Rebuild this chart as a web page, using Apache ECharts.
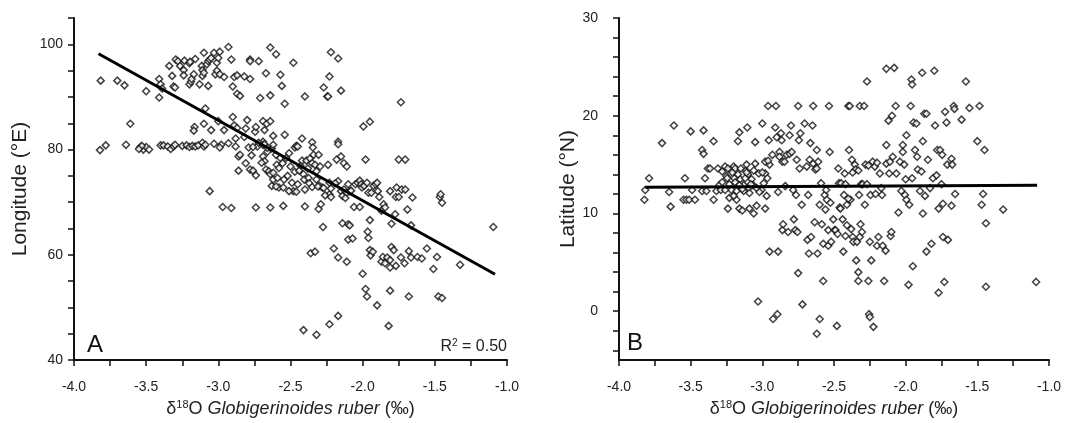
<!DOCTYPE html>
<html>
<head>
<meta charset="utf-8">
<script src="https://cdn.jsdelivr.net/npm/echarts@6/dist/echarts.min.js"></script>
<style>html,body{margin:0;padding:0;background:#fff}#c{width:1082px;height:423px}</style>
</head>
<body>
<div id="c"></div>
<script>
// ---- DATA ----
const xTicks = [-4.0,-3.75,-3.5,-3.25,-3.0,-2.75,-2.5,-2.25,-2.0,-1.75,-1.5,-1.25,-1.0];
const xLabels = [-4.0,-3.5,-3.0,-2.5,-2.0,-1.5,-1.0];
const lonTicks = [40,45,50,55,60,65,70,75,80,85,90,95,100,105];
const lonLabels = [40,60,80,100];
const latTicks = [-4,-2,0,2,4,6,8,10,12,14,16,18,20,22,24,26,28,30];
const latLabels = [0,10,20,30];
const lonFit = [[-3.83,98.2],[-1.083,56.3]];
const latFit = [[-3.817,12.68],[-1.083,12.89]];
const lonPoints = [
[-3.815,93.1],[-3.82,79.9],[-3.78,80.8],[-3.70,93.1],[-3.65,92.2],[-3.61,84.9],[-3.64,80.9],[-3.50,91.1],
[-3.54,80.5],[-3.52,80.0],[-3.50,80.5],[-3.48,80.0],[-3.53,80.7],[-3.55,80.1],
[-3.41,93.4],[-3.41,89.9],[-3.40,92.4],[-3.39,91.6],
[-3.40,80.8],[-3.38,80.8],[-3.35,80.6],[-3.33,80.1],[-3.31,80.6],[-3.30,80.9],
[-3.34,95.9],[-3.32,94.0],[-3.31,92.0],[-3.30,91.8],
[-3.295,97.1],[-3.28,96.8],[-3.265,95.9],[-3.24,95.1],[-3.24,94.1],[-3.235,96.9],
[-3.25,80.7],[-3.22,80.8],[-3.20,80.5],[-3.18,80.7],[-3.16,80.6],[-3.14,80.8],
[-3.20,96.4],[-3.195,96.7],[-3.20,92.4],[-3.19,92.9],[-3.185,93.4],[-3.17,94.3],[-3.16,97.2],
[-3.13,92.4],[-3.115,95.9],[-3.11,95.1],[-3.11,94.0],[-3.10,98.4],[-3.10,94.6],
[-3.10,84.9],[-3.09,87.8],[-3.165,84.3],[-3.17,83.6],
[-3.11,81.3],[-3.10,80.6],[-3.09,80.9],
[-3.08,96.2],[-3.07,96.8],[-3.06,97.1],[-3.05,97.4],[-3.03,98.4],[-3.02,94.3],[-3.01,96.5],[-3.00,97.4],[-2.99,98.6],[-3.01,95.0],[-2.99,94.3],
[-3.07,92.1],
[-3.05,83.7],[-3.03,81.1],[-2.98,80.9],[-2.99,80.4],[-3.00,85.4],
[-3.06,72.1],[-2.97,69.1],[-2.91,68.9],
[-2.96,93.8],[-2.93,99.5],[-2.91,97.1],[-2.89,93.8],[-2.87,94.1],[-2.90,92.0],[-2.87,90.6],[-2.85,90.2],[-2.82,93.9],[-2.78,97.1],[-2.78,96.8],[-2.78,93.4],[-2.72,96.8],[-2.71,89.8],
[-2.96,83.7],[-2.93,81.2],[-2.90,86.2],[-2.89,84.6],[-2.87,84.1],[-2.80,85.6],[-2.81,84.0],[-2.82,82.4],[-2.88,82.1],[-2.88,80.6],[-2.86,78.7],[-2.85,79.0],[-2.86,76.0],[-2.81,77.4],[-2.79,80.4],[-2.78,76.2],[-2.77,78.9],[-2.76,76.0],[-2.74,75.1],[-2.73,80.6],[-2.745,83.4],[-2.74,84.3],
[-2.74,69.0],[-2.64,69.0],
[-2.69,81.5],[-2.69,80.9],[-2.69,85.4],[-2.665,84.9],[-2.68,83.7],[-2.64,85.4],[-2.69,78.7],[-2.68,77.8],[-2.67,76.2],[-2.66,79.6],[-2.65,75.9],[-2.64,75.3],[-2.63,73.1],[-2.62,74.3],[-2.63,80.2],[-2.62,82.6],[-2.62,80.9],[-2.60,79.0],[-2.595,77.1],[-2.59,74.6],[-2.58,72.8],
[-2.67,94.5],[-2.64,90.3],[-2.64,99.4],[-2.60,98.1],[-2.57,94.2],[-2.56,92.1],[-2.54,88.7],[-2.54,82.8],[-2.55,69.3],
[-2.57,78.4],[-2.555,77.4],[-2.545,74.3],[-2.53,78.4],[-2.51,79.3],[-2.50,76.8],[-2.49,73.7],[-2.48,72.1],[-2.47,80.4],[-2.46,80.7],[-2.45,80.6],[-2.48,96.5],
[-2.43,76.9],[-2.42,77.9],[-2.42,82.1],[-2.41,75.3],[-2.405,74.3],[-2.40,72.4],[-2.40,69.2],[-2.40,90.1],[-2.39,77.9],[-2.38,76.4],[-2.375,74.6],[-2.365,78.3],[-2.35,77.4],[-2.35,81.4],[-2.345,80.4],[-2.34,79.0],[-2.33,77.1],[-2.32,74.3],[-2.32,75.9],[-2.305,68.7],[-2.305,79.0],[-2.30,73.1],[-2.295,76.8],[-2.29,69.6],[-2.28,72.8],[-2.275,65.3],[-2.36,60.3],[-2.33,60.6],[-2.41,45.7],[-2.32,44.8],
[-2.27,91.8],[-2.245,90.1],[-2.24,90.1],[-2.23,93.9],[-2.22,98.5],[-2.24,77.1],[-2.23,73.7],[-2.23,71.5],[-2.22,72.6],[-2.20,61.2],[-2.23,46.8],[-2.17,48.4],
[-2.17,97.3],[-2.15,91.2],[-2.17,81.5],[-2.17,81.0],[-2.18,78.1],[-2.15,78.7],[-2.13,77.4],[-2.11,76.8],[-2.17,74.0],[-2.15,72.1],[-2.14,71.2],[-2.13,72.4],[-2.11,71.8],[-2.10,73.4],[-2.09,72.1],[-2.14,66.0],[-2.10,65.8],[-2.09,65.6],[-2.17,59.5],[-2.11,58.7],[-2.10,62.9],[-2.07,63.1],[-2.06,69.1],
[-2.05,73.4],[-2.035,73.7],[-2.02,74.1],[-2.01,73.4],[-2.005,72.8],[-1.99,73.1],[-2.02,69.1],[-2.00,56.4],[-1.995,84.4],[-1.98,78.1],[-1.98,53.5],[-1.97,52.1],[-1.97,73.7],[-1.96,71.8],[-1.95,85.3],[-1.965,64.4],[-1.96,63.2],[-1.95,66.6],[-1.95,60.9],[-1.945,59.9],[-1.94,71.8],[-1.93,60.6],[-1.925,73.1],[-1.91,73.4],[-1.90,73.7],[-1.895,72.1],[-1.885,71.0],[-1.90,50.4],
[-1.87,68.4],[-1.855,69.6],[-1.845,69.0],[-1.87,58.7],[-1.86,59.6],[-1.845,58.4],[-1.83,59.5],[-1.81,72.1],[-1.81,59.0],[-1.81,57.6],[-1.81,53.2],[-1.82,46.5],[-1.80,65.9],[-1.80,61.5],[-1.785,60.9],[-1.775,67.7],[-1.77,57.9],[-1.77,71.0],[-1.765,72.8],[-1.75,78.1],[-1.75,71.0],[-1.73,72.4],[-1.735,89.0],[-1.735,59.5],[-1.71,58.4],[-1.705,78.1],[-1.705,72.4],[-1.69,68.6],[-1.68,52.1],[-1.68,60.7],[-1.665,65.6],[-1.655,70.9],[-1.665,59.5],[-1.62,59.6],[-1.59,59.3],[-1.555,61.2],[-1.51,57.3],[-1.485,59.6],[-1.475,52.1],[-1.465,71.0],[-1.46,71.5],[-1.45,69.9],[-1.45,51.8],[-1.325,58.1],[-1.095,65.3],
[-2.68,81.0],[-2.66,80.3],[-2.58,76.5],[-2.52,75.0],[-2.47,75.8],[-2.45,73.4],[-2.44,76.0],[-2.37,73.6],[-2.35,72.9],[-2.31,73.0],[-2.27,72.7],[-2.26,71.3],[-2.22,71.0],[-2.19,73.6],[-2.12,70.8],[-2.08,72.2],[-2.46,72.0],[-2.51,72.1],[-2.55,72.8],[-2.60,73.0],[-2.62,75.6],[-2.70,77.5],[-2.72,81.3],[-2.76,80.5]
];
const latPoints = [
[-3.823,11.4],[-3.817,12.4],[-3.79,13.6],[-3.70,17.2],[-3.65,12.2],[-3.64,10.7],[-3.617,19.0],
[-3.55,11.4],[-3.53,11.4],[-3.51,11.4],[-3.47,11.4],[-3.54,13.6],[-3.50,18.4],[-3.49,12.4],
[-3.42,16.5],[-3.41,18.5],[-3.41,16.1],[-3.42,12.3],[-3.40,13.6],[-3.39,12.3],[-3.38,14.6],[-3.365,14.6],[-3.34,17.4],[-3.34,11.4],[-3.32,12.3],[-3.31,14.6],[-3.30,12.9],[-3.29,12.4],[-3.28,14.3],
[-3.26,14.8],[-3.25,13.8],[-3.245,13.6],[-3.24,10.5],[-3.23,11.6],[-3.22,14.5],[-3.215,12.4],[-3.20,14.8],[-3.195,13.6],[-3.19,14.6],[-3.18,11.4],[-3.18,12.3],[-3.17,17.4],[-3.16,18.3],[-3.16,10.5],[-3.155,13.5],[-3.15,14.6],[-3.14,10.3],[-3.13,12.9],[-3.13,12.3],[-3.115,14.4],[-3.11,15.0],[-3.105,18.8],[-3.10,14.0],[-3.095,12.6],[-3.09,10.5],[-3.09,12.1],[-3.075,13.5],[-3.065,12.9],[-3.06,10.0],[-3.05,15.1],[-3.05,17.3],[-3.04,10.8],[-3.03,1.0],[-3.025,14.1],
[-3.005,12.4],[-3.00,19.2],[-2.99,13.1],[-2.98,14.1],[-2.98,10.5],[-2.97,11.8],[-2.965,13.6],[-2.96,21.0],[-2.955,17.5],[-2.95,6.1],[-2.95,15.0],[-2.93,16.0],[-2.925,-0.8],[-2.91,18.8],[-2.905,21.0],[-2.90,17.8],[-2.895,-0.3],[-2.89,12.2],[-2.89,6.1],[-2.88,16.3],[-2.88,15.8],[-2.87,18.2],[-2.865,17.5],[-2.86,15.3],[-2.86,8.3],[-2.855,8.9],[-2.845,15.3],[-2.84,12.8],[-2.83,16.0],[-2.82,8.1],[-2.81,18.0],[-2.81,16.1],[-2.80,19.0],[-2.795,16.3],[-2.785,12.4],[-2.78,9.4],[-2.77,8.3],[-2.765,11.9],[-2.76,15.5],[-2.755,8.1],[-2.75,3.9],[-2.75,21.0],[-2.745,17.5],[-2.74,14.6],[-2.735,18.2],[-2.725,10.9],[-2.72,0.7],[-2.705,19.2],[-2.69,14.8],[-2.685,7.3],[-2.68,11.9],[-2.675,5.9],[-2.67,15.5],[-2.665,17.2],[-2.66,7.6],[-2.65,19.0],[-2.645,21.0],[-2.645,15.1],[-2.635,9.1],[-2.63,14.5],[-2.62,14.6],[-2.62,-2.3],[-2.62,16.5],[-2.615,5.9],[-2.61,15.3],[-2.60,10.9],[-2.60,-0.8],[-2.59,13.1],[-2.585,8.9],[-2.575,6.9],[-2.575,3.1],[-2.565,11.9],[-2.56,10.4],[-2.555,12.4],[-2.55,11.4],[-2.54,6.7],[-2.54,8.3],[-2.535,21.0],[-2.53,16.3],[-2.525,11.1],[-2.52,7.1],[-2.505,9.4],[-2.495,8.3],[-2.49,8.3],[-2.48,-1.5],[-2.475,7.9],[-2.47,14.6],[-2.465,13.1],[-2.46,10.6],[-2.455,10.5],[-2.45,13.1],[-2.44,9.4],[-2.435,6.1],[-2.43,11.9],[-2.425,14.1],[-2.42,7.7],[-2.41,8.8],[-2.41,10.9],[-2.40,21.0],[-2.395,16.5],[-2.39,21.0],[-2.385,11.4],[-2.38,8.4],[-2.375,15.5],[-2.37,7.6],[-2.365,7.1],[-2.355,15.0],[-2.35,14.5],[-2.345,5.2],[-2.34,7.1],[-2.33,4.0],[-2.33,3.1],[-2.325,11.9],[-2.32,7.6],[-2.32,21.0],[-2.315,8.9],[-2.31,13.0],[-2.305,8.1],[-2.30,13.0],[-2.29,21.0],[-2.285,10.9],[-2.28,15.0],[-2.27,23.5],[-2.26,3.1],[-2.25,7.1],[-2.255,-0.3],[-2.25,-0.6],[-2.245,11.9],[-2.24,5.2],[-2.23,15.3],[-2.225,-1.6],[-2.215,14.8],[-2.20,6.7],[-2.19,7.6],[-2.18,14.1],[-2.17,12.6],[-2.165,11.9],[-2.16,6.7],[-2.15,3.1],[-2.14,6.2],[-2.135,15.1],[-2.135,17.0],[-2.135,24.8],[-2.12,19.5],[-2.115,14.1],[-2.11,15.3],[-2.105,7.7],[-2.10,8.1],[-2.095,20.0],[-2.09,15.8],[-2.08,24.9],[-2.07,21.0],[-2.065,14.1],[-2.05,10.1],[-2.04,15.3],[-2.03,12.3],[-2.02,17.0],[-2.02,16.3],[-2.01,15.0],[-2.005,11.9],[-2.00,13.5],[-1.995,18.0],[-1.995,11.4],[-1.98,2.7],[-1.975,10.9],[-1.965,21.0],[-1.96,23.7],[-1.955,23.2],[-1.955,13.6],[-1.95,4.6],[-1.945,19.3],[-1.935,16.5],[-1.925,19.2],[-1.92,15.8],[-1.915,14.5],[-1.90,12.3],[-1.89,14.3],[-1.885,24.4],[-1.88,17.4],[-1.88,10.0],[-1.87,20.2],[-1.865,11.8],[-1.855,20.2],[-1.855,6.1],[-1.845,15.5],[-1.83,12.6],[-1.82,6.9],[-1.81,13.6],[-1.80,24.6],[-1.795,19.0],[-1.785,13.9],[-1.78,16.5],[-1.77,10.5],[-1.77,1.9],[-1.76,16.5],[-1.75,13.0],[-1.745,16.0],[-1.74,7.6],[-1.74,11.0],[-1.73,3.0],[-1.725,20.4],[-1.715,19.3],[-1.71,15.0],[-1.705,7.3],[-1.68,10.8],[-1.68,15.6],[-1.675,15.0],[-1.665,21.0],[-1.66,20.7],[-1.655,12.0],[-1.61,19.6],[-1.58,23.5],[-1.555,20.8],[-1.50,17.4],[-1.485,21.0],[-1.47,10.9],[-1.46,12.0],[-1.45,16.5],[-1.44,9.0],[-1.44,2.5],[-1.32,10.4],[-1.09,3.0],
[-3.28,13.2],[-3.26,12.4],[-3.23,13.0],[-3.21,14.2],[-3.19,13.2],[-3.17,14.0],[-3.14,12.5],[-3.12,13.6],[-3.11,14.2],[-3.08,13.0],[-3.06,14.4],[-3.04,12.6],[-3.02,12.2],[-3.24,14.6],[-3.20,11.8],[-3.16,12.9],[-3.00,14.2],[-2.98,15.3],[-2.96,15.4],
[-2.42,13.0],[-2.40,11.5],[-2.37,14.2],[-2.33,14.4],[-2.27,13.0],[-2.26,14.9],[-2.20,15.2],[-2.21,12.0]
];

// ---- CHART ----
const FONT = 'Liberation Sans, Arial, sans-serif';
const AX = '#111';
function xAxisCfg(gi) {
  return {
    type: 'value', gridIndex: gi, min: -4, max: -1, interval: 0.25,
    axisLine: {show: true, onZero: false, lineStyle: {color: AX, width: 2}},
    axisTick: {show: true, inside: false, length: 6, lineStyle: {color: AX, width: 1.5}, customValues: xTicks},
    axisLabel: {show: true, margin: 20, color: '#222', fontSize: 14, fontFamily: FONT,
      customValues: xLabels, formatter: v => v.toFixed(1)},
    splitLine: {show: false},
    name: '{d|δ}{s|18}{d|O }{i|Globigerinoides ruber}{d| (‰)}',
    nameLocation: 'middle', nameGap: 36,
    nameTextStyle: {color: '#222', fontFamily: FONT, rich: {
      d: {fontSize: 18, fontFamily: FONT, color: '#222', lineHeight: 20},
      i: {fontSize: 18, fontFamily: FONT, fontStyle: 'italic', color: '#222', lineHeight: 20},
      s: {fontSize: 11, fontFamily: FONT, color: '#222', verticalAlign: 'top', lineHeight: 20, padding: [0, 0, 6, 0]}
    }}
  };
}
function yAxisCfg(gi, min, max, ticks, labels, name, margin, gap) {
  return {
    type: 'value', gridIndex: gi, min: min, max: max, interval: 1,
    axisLine: {show: true, onZero: false, lineStyle: {color: AX, width: 2}},
    axisTick: {show: true, inside: false, length: 6, lineStyle: {color: AX, width: 1.5}, customValues: ticks},
    axisLabel: {show: true, margin: margin, color: '#222', fontSize: 14, fontFamily: FONT, customValues: labels},
    splitLine: {show: false},
    name: name, nameLocation: 'middle', nameGap: gap,
    nameTextStyle: {color: '#222', fontSize: 21, fontFamily: FONT}
  };
}
const chart = echarts.init(document.getElementById('c'), null, {renderer: 'canvas'});
const scatterStyle = {color: '#fff', borderColor: '#111', borderWidth: 1.5};
chart.setOption({
  backgroundColor: '#fff',
  animation: false,
  grid: [
    {left: 74, top: 18, width: 433, height: 346},
    {left: 619, top: 18, width: 430, height: 347}
  ],
  xAxis: [xAxisCfg(0), xAxisCfg(1)],
  yAxis: [
    yAxisCfg(0, 40, 105, lonTicks, lonLabels, 'Longitude (°E)', 11, 43),
    yAxisCfg(1, -5, 30, latTicks, latLabels, 'Latitude (°N)', 21, 37)
  ],
  series: [
    {type: 'scatter', xAxisIndex: 0, yAxisIndex: 0, data: lonPoints, symbol: 'diamond', symbolSize: 7, itemStyle: scatterStyle, z: 2},
    {type: 'line', xAxisIndex: 0, yAxisIndex: 0, data: lonFit, symbol: 'none', lineStyle: {color: '#000', width: 3}, z: 3},
    {type: 'scatter', xAxisIndex: 1, yAxisIndex: 1, data: latPoints, symbol: 'diamond', symbolSize: 7, itemStyle: scatterStyle, z: 2},
    {type: 'line', xAxisIndex: 1, yAxisIndex: 1, data: latFit, symbol: 'none', lineStyle: {color: '#000', width: 3}, z: 3}
  ],
  graphic: [
    {type: 'text', x: 95, y: 345, style: {text: 'A', font: '24px ' + FONT, fill: '#111', align: 'center', verticalAlign: 'middle'}},
    {type: 'text', x: 635, y: 343, style: {text: 'B', font: '24px ' + FONT, fill: '#111', align: 'center', verticalAlign: 'middle'}},
    {type: 'text', x: 507, y: 347, style: {text: '{a|R}{s|2}{a| = 0.50}', align: 'right', verticalAlign: 'middle',
      rich: {a: {fontSize: 16, fontFamily: FONT, fill: '#222', lineHeight: 18},
             s: {fontSize: 10, fontFamily: FONT, fill: '#222', verticalAlign: 'top', lineHeight: 18}}}}
  ]
});
</script>
</body>
</html>
